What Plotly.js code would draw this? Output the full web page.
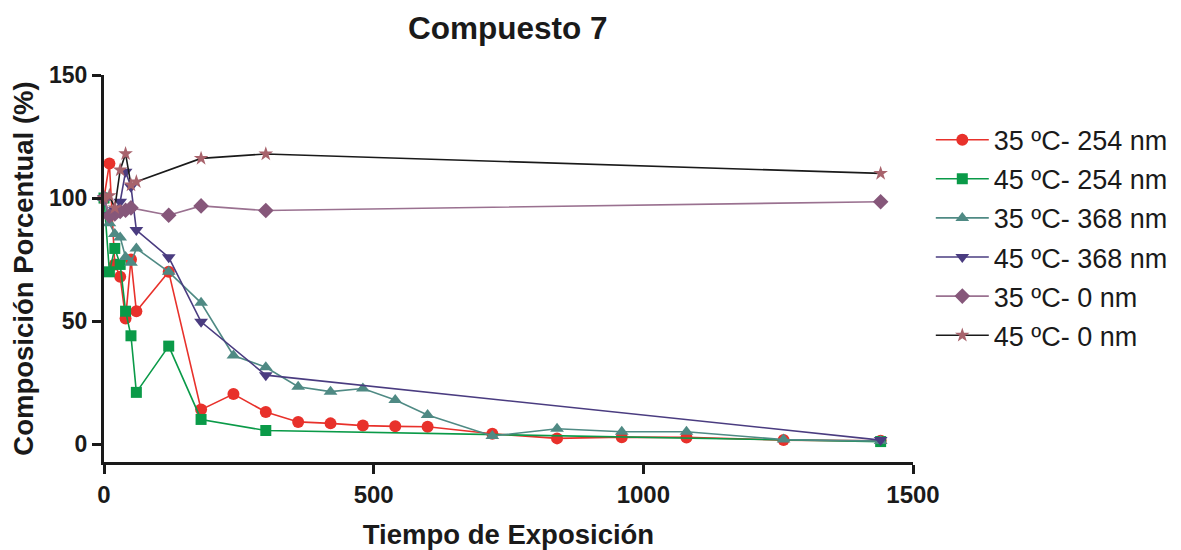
<!DOCTYPE html>
<html>
<head>
<meta charset="utf-8">
<script src="https://cdn.plot.ly/plotly-3.0.1.min.js"></script>
<style>html,body{margin:0;padding:0;background:#fff}#chart{width:1181px;height:550px}</style>
</head>
<body>
<div id="chart"></div>
<script>
const seriesNames = ["35 ºC- 254 nm", "45 ºC- 254 nm", "35 ºC- 368 nm", "45 ºC- 368 nm", "35 ºC- 0 nm", "45 ºC- 0 nm"];

const t_35_254 = [0, 10, 20, 30, 40, 50, 60, 120, 180, 240, 300, 360, 420, 480, 540, 600, 720, 840, 960, 1080, 1260, 1440];
const y_35_254 = [100, 114, 73, 68, 51, 75, 54, 70, 14, 20.3, 13, 9, 8.4, 7.5, 7.2, 7, 4.2, 2.3, 2.8, 2.7, 1.6, 1.3];

const t_45_254 = [0, 10, 20, 30, 40, 50, 60, 120, 180, 300, 1440];
const y_45_254 = [100, 70, 79.5, 73, 54, 44, 21, 39.8, 10, 5.5, 1];

const t_35_368 = [0, 10, 20, 30, 40, 50, 60, 120, 180, 240, 300, 360, 420, 480, 540, 600, 720, 840, 960, 1080, 1260, 1440];
const y_35_368 = [100, 89.7, 85.4, 84, 76, 73.7, 79.5, 70, 57.4, 36, 31.2, 23.3, 21.3, 22.6, 17.9, 11.8, 3.3, 6.2, 5, 5, 1.8, 1.2];

const t_45_368 = [0, 10, 20, 30, 40, 50, 60, 120, 180, 300, 1440];
const y_45_368 = [100, 93, 95, 98.5, 110.7, 104.6, 87, 75.9, 49.7, 28, 1.6];

const t_35_0 = [0, 10, 20, 30, 40, 50, 120, 180, 300, 1440];
const y_35_0 = [100, 92.7, 93.5, 94.5, 95, 96, 93, 96.8, 94.9, 98.5];

const t_45_0 = [0, 10, 20, 30, 40, 50, 60, 180, 300, 1440];
const y_45_0 = [100, 101, 96, 111.4, 118, 105.3, 106.6, 116.1, 117.9, 110];

const xTicks = [0, 500, 1000, 1500];
const yTicks = [0, 50, 100, 150];

const lineColors = ["#E8312B", "#0A9A48", "#4F8A84", "#4A3C80", "#9A7190", "#1A1A1A"];
const markerColors = ["#E8312B", "#0A9A48", "#4F8A84", "#4A3C80", "#86577A", "#A8636C"];
const symbols = ["circle", "square", "triangle-up", "triangle-down", "diamond", "star"];
const sizes = [12, 11, 12, 12, 12, 11];

const xs = [t_35_254, t_45_254, t_35_368, t_45_368, t_35_0, t_45_0];
const ys = [y_35_254, y_45_254, y_35_368, y_45_368, y_35_0, y_45_0];

const traces = seriesNames.map((n, i) => ({
  type: "scatter",
  mode: "lines+markers",
  name: n,
  x: xs[i],
  y: ys[i],
  legendgroup: "g" + i,
  cliponaxis: false,
  line: {color: lineColors[i], width: 1.6},
  marker: {symbol: symbols[i], size: sizes[i], color: markerColors[i], line: {width: 0}}
}));

const layout = {
  width: 1181,
  height: 550,
  paper_bgcolor: "#fff",
  plot_bgcolor: "#fff",
  margin: {l: 104, r: 268, t: 75, b: 88, autoexpand: false},
  font: {family: "Liberation Sans, Arial, sans-serif", color: "#1a1a1a"},
  title: {text: "<b>Compuesto 7</b>", font: {size: 31.5, color: "#1a1a1a"}, x: 0.430, xanchor: "center", y: 0.950, yanchor: "middle"},
  showlegend: true,
  legend: {
    x: 1.022, xanchor: "left", y: 0.895, yanchor: "top",
    font: {size: 27, color: "#1a1a1a"},
    traceorder: "grouped",
    tracegroupgap: 1,
    itemwidth: 53,
    bgcolor: "rgba(0,0,0,0)"
  },
  xaxis: {
    range: [0, 1500],
    tickvals: xTicks,
    ticktext: xTicks.map(v => "<b>" + v + "</b>"),
    showgrid: false, zeroline: false,
    showline: true, linecolor: "#1a1a1a", linewidth: 3,
    ticks: "outside", ticklen: 9, tickwidth: 3, tickcolor: "#1a1a1a",
    tickfont: {size: 24, color: "#1a1a1a"},
    title: {text: "<b>Tiempo de Exposición</b>", font: {size: 27.5, color: "#1a1a1a"}, standoff: 18}
  },
  yaxis: {
    range: [-7.3, 150],
    tickvals: yTicks,
    ticktext: yTicks.map(v => "<b>" + v + "</b>"),
    showgrid: false, zeroline: false,
    showline: true, linecolor: "#1a1a1a", linewidth: 3,
    ticks: "outside", ticklen: 9, tickwidth: 3, tickcolor: "#1a1a1a",
    tickfont: {size: 23, color: "#1a1a1a"},
    title: {text: "<b>Composición Porcentual (%)</b>", font: {size: 27.5, color: "#1a1a1a"}, standoff: 8}
  }
};

Plotly.newPlot("chart", traces, layout, {displayModeBar: false, staticPlot: true});
</script>
</body>
</html>
